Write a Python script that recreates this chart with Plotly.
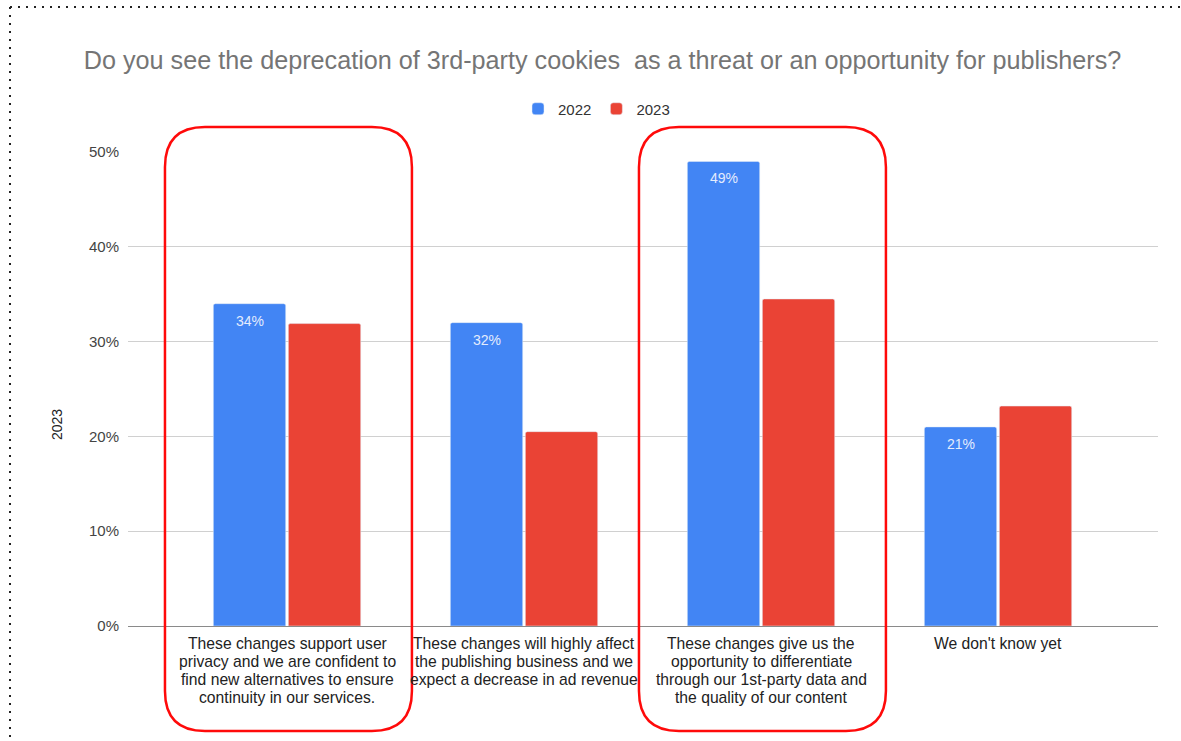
import plotly.graph_objects as go

# ---------------- data ----------------
category_lines = [
    ["These changes support user", "privacy and we are confident to",
     "find new alternatives to ensure", "continuity in our services."],
    ["These changes will highly affect", "the publishing business and we",
     "expect a decrease in ad revenue"],
    ["These changes give us the", "opportunity to differentiate",
     "through our 1st-party data and", "the quality of our content"],
    ["We don't know yet"],
]
categories = [" ".join(lines) for lines in category_lines]
values_2022 = [0.34, 0.32, 0.49, 0.21]
values_2023 = [0.319, 0.205, 0.345, 0.232]
labels_2022 = ["34%", "32%", "49%", "21%"]
highlighted = [0, 2]
y_tickvals = [0, 0.1, 0.2, 0.3, 0.4, 0.5]
y_ticktext = ["0%", "10%", "20%", "30%", "40%", "50%"]
title_text = "Do you see the deprecation of 3rd-party cookies  as a threat or an opportunity for publishers?"

# ---------------- layout constants ----------------
W, H = 1181, 741
ML, MR, MT, MB = 128, 23, 152, 115
PW, PH = W - ML - MR, H - MT - MB
XR = [-0.671, 3.675]
BARGAP = 0.367
GROUPGAP = 0.035
FONT = "Liberation Sans, Arial, sans-serif"
BLUE, RED = "#4285F4", "#EA4335"

xs = list(range(len(categories)))


def px_x(p):
    return (p - ML) / PW


def px_y(p):
    return (H - MB - p) / PH


def data_x_to_paper(x):
    return (x - XR[0]) / (XR[1] - XR[0])


fig = go.Figure()
fig.add_trace(go.Bar(x=xs, y=values_2022, name="2022", marker_color=BLUE,
                     marker_cornerradius=2, hoverinfo="skip"))
fig.add_trace(go.Bar(x=xs, y=values_2023, name="2023", marker_color=RED,
                     marker_cornerradius=2, hoverinfo="skip"))

annotations = []
# value labels inside 2022 bars
off = (1 - BARGAP) / 4
for i, (v, t) in enumerate(zip(values_2022, labels_2022)):
    annotations.append(dict(x=i - off, y=v, xref="x", yref="y", text=t,
                            showarrow=False, yshift=-17, yanchor="middle",
                            font=dict(family=FONT, size=14, color="#e4ecfd")))
# category labels (one annotation per line for tight line spacing)
for i, lines in enumerate(category_lines):
    for k, line in enumerate(lines):
        annotations.append(dict(x=i, y=0, xref="x", yref="paper", text=line,
                                showarrow=False, yshift=-(17 + 18 * k),
                                yanchor="middle", xanchor="center",
                                font=dict(family=FONT, size=15.7, color="#222222")))
# y-axis title
annotations.append(dict(x=px_x(57), y=px_y(425), xref="paper", yref="paper",
                        text="2023", textangle=-90, showarrow=False,
                        xanchor="center", yanchor="middle",
                        font=dict(family=FONT, size=14, color="#222222")))

shapes = []
# rounded red highlight boxes
half = 0.521
rx = 40 / (PW / (XR[1] - XR[0]))
rx_p = rx / (XR[1] - XR[0])
ry = 40 / PH
top, bot = px_y(127), px_y(731)
for c in highlighted:
    x0 = data_x_to_paper(c - half + 0.006)
    x1 = data_x_to_paper(c + half + 0.006)
    path = (f"M {x0 + rx_p},{top} L {x1 - rx_p},{top} Q {x1},{top} {x1},{top - ry} "
            f"L {x1},{bot + ry} Q {x1},{bot} {x1 - rx_p},{bot} "
            f"L {x0 + rx_p},{bot} Q {x0},{bot} {x0},{bot + ry} "
            f"L {x0},{top - ry} Q {x0},{top} {x0 + rx_p},{top} Z")
    shapes.append(dict(type="path", path=path, xref="paper", yref="paper",
                       line=dict(color="#ff0a0a", width=2.5), layer="above"))
# dotted page border (top and left)
shapes.append(dict(type="line", xref="paper", yref="paper",
                   x0=px_x(10), x1=px_x(1181), y0=px_y(7), y1=px_y(7),
                   line=dict(color="#222222", width=2, dash="2px,6px")))
shapes.append(dict(type="line", xref="paper", yref="paper",
                   x0=px_x(10), x1=px_x(10), y0=px_y(7), y1=px_y(741),
                   line=dict(color="#222222", width=2, dash="2px,6px")))

fig.update_layout(
    width=W, height=H,
    margin=dict(l=ML, r=MR, t=MT, b=MB),
    paper_bgcolor="white", plot_bgcolor="white",
    font=dict(family=FONT, color="#444444"),
    barmode="group", bargap=BARGAP, bargroupgap=GROUPGAP,
    title=dict(text=title_text, x=602.5 / W, xanchor="center", xref="container",
               y=1 - 60 / H, yanchor="middle", yref="container",
               font=dict(family=FONT, size=25.2, color="#757575")),
    legend=dict(orientation="h", x=px_x(518), xanchor="left",
                y=px_y(109), yanchor="middle",
                font=dict(family=FONT, size=15, color="#333333"),
                bgcolor="rgba(0,0,0,0)"),
    xaxis=dict(range=XR, tickvals=xs, ticktext=[""] * len(xs),
               showticklabels=False, showgrid=False, zeroline=False,
               showline=True, linecolor="#8a8a8a", linewidth=1.3,
               fixedrange=True),
    yaxis=dict(range=[0, 0.5], tickvals=y_tickvals, ticktext=y_ticktext,
               showgrid=True, gridcolor="#d0d0d0", gridwidth=1,
               zeroline=False, showline=False,
               ticks="outside", ticklen=5, tickcolor="rgba(0,0,0,0)",
               tickfont=dict(family=FONT, size=15, color="#444444"),
               fixedrange=True),
    annotations=annotations,
    shapes=shapes,
)

fig.write_html("out.html")
